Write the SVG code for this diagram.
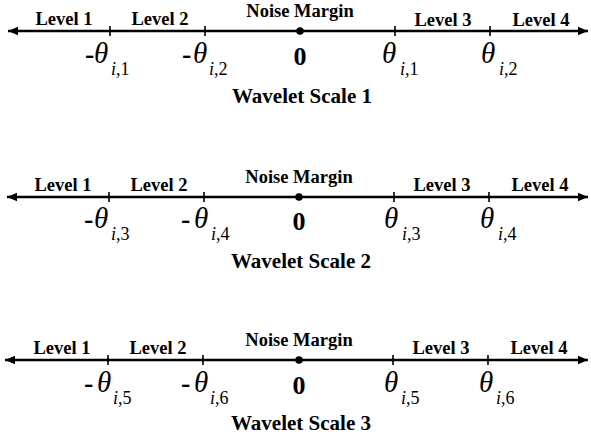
<svg xmlns="http://www.w3.org/2000/svg" width="591" height="441" viewBox="0 0 591 441">
<style>
.ax{stroke:#000;stroke-width:2.4;fill:none}
.tk{stroke:#000;stroke-width:1.6}
text{font-family:'Liberation Serif',serif;fill:#000}
.lv{font-weight:bold;font-size:18.5px;text-anchor:middle}
.ws{font-weight:bold;font-size:21px;text-anchor:middle}
.zero{font-weight:bold;font-size:26px;text-anchor:middle}
.th{font-style:italic;font-size:29px}
.dash{font-weight:bold;font-size:28px}
.sb{font-size:18px}
.sbi{font-style:italic}
</style>
<defs>
<marker id="ah" markerUnits="userSpaceOnUse" markerWidth="12" markerHeight="10" refX="10" refY="5" orient="auto-start-reverse">
<path d="M0,0.8 L10,5 L0,9.2 Z" fill="#000"/>
</marker>
</defs>
<rect width="591" height="441" fill="#fff"/>

<g id="scale1">
<line class="ax" x1="8" y1="31" x2="588" y2="31" marker-start="url(#ah)" marker-end="url(#ah)"/>
<line class="tk" x1="110" y1="26" x2="110" y2="36"/>
<line class="tk" x1="205" y1="26" x2="205" y2="36"/>
<line class="tk" x1="395" y1="26" x2="395" y2="36"/>
<line class="tk" x1="490" y1="26" x2="490" y2="36"/>
<circle cx="300" cy="31" r="3.8" fill="#000"/>
<text class="lv" x="64" y="25">Level 1</text>
<text class="lv" x="160" y="25">Level 2</text>
<text class="lv" x="300" y="17">Noise Margin</text>
<text class="lv" x="443" y="26">Level 3</text>
<text class="lv" x="541" y="26">Level 4</text>
<text class="dash" x="85" y="63">-</text>
<text class="th" x="94" y="63">θ</text>
<text class="sb" x="111" y="75"><tspan class="sbi">i</tspan>,1</text>
<text class="dash" x="182" y="63">-</text>
<text class="th" x="193" y="63">θ</text>
<text class="sb" x="209" y="75"><tspan class="sbi">i</tspan>,2</text>
<text class="zero" x="300" y="65">0</text>
<text class="th" x="382" y="63">θ</text>
<text class="sb" x="400" y="75"><tspan class="sbi">i</tspan>,1</text>
<text class="th" x="481" y="63">θ</text>
<text class="sb" x="499" y="75"><tspan class="sbi">i</tspan>,2</text>
<text class="ws" x="302" y="103">Wavelet Scale 1</text>
</g>

<g id="scale2">
<line class="ax" x1="7" y1="197" x2="588" y2="197" marker-start="url(#ah)" marker-end="url(#ah)"/>
<line class="tk" x1="109" y1="192" x2="109" y2="202"/>
<line class="tk" x1="204" y1="192" x2="204" y2="202"/>
<line class="tk" x1="394" y1="192" x2="394" y2="202"/>
<line class="tk" x1="489" y1="192" x2="489" y2="202"/>
<circle cx="299" cy="197" r="3.8" fill="#000"/>
<text class="lv" x="63" y="191">Level 1</text>
<text class="lv" x="159" y="191">Level 2</text>
<text class="lv" x="299" y="183">Noise Margin</text>
<text class="lv" x="442" y="191">Level 3</text>
<text class="lv" x="540" y="191">Level 4</text>
<text class="dash" x="84" y="228">-</text>
<text class="th" x="94" y="228">θ</text>
<text class="sb" x="111" y="240"><tspan class="sbi">i</tspan>,3</text>
<text class="dash" x="181" y="228">-</text>
<text class="th" x="194" y="228">θ</text>
<text class="sb" x="211" y="240"><tspan class="sbi">i</tspan>,4</text>
<text class="zero" x="299" y="230">0</text>
<text class="th" x="384" y="228">θ</text>
<text class="sb" x="402" y="240"><tspan class="sbi">i</tspan>,3</text>
<text class="th" x="480" y="228">θ</text>
<text class="sb" x="498" y="240"><tspan class="sbi">i</tspan>,4</text>
<text class="ws" x="301" y="268">Wavelet Scale 2</text>
</g>

<g id="scale3">
<line class="ax" x1="5" y1="360" x2="588" y2="360" marker-start="url(#ah)" marker-end="url(#ah)"/>
<line class="tk" x1="108" y1="355" x2="108" y2="365"/>
<line class="tk" x1="203" y1="355" x2="203" y2="365"/>
<line class="tk" x1="393" y1="355" x2="393" y2="365"/>
<line class="tk" x1="488" y1="355" x2="488" y2="365"/>
<circle cx="299" cy="360" r="3.8" fill="#000"/>
<text class="lv" x="62" y="354">Level 1</text>
<text class="lv" x="158" y="354">Level 2</text>
<text class="lv" x="299" y="346">Noise Margin</text>
<text class="lv" x="441" y="354">Level 3</text>
<text class="lv" x="539" y="354">Level 4</text>
<text class="dash" x="84" y="392">-</text>
<text class="th" x="97" y="392">θ</text>
<text class="sb" x="113" y="404"><tspan class="sbi">i</tspan>,5</text>
<text class="dash" x="181" y="392">-</text>
<text class="th" x="194" y="392">θ</text>
<text class="sb" x="210" y="404"><tspan class="sbi">i</tspan>,6</text>
<text class="zero" x="299" y="394">0</text>
<text class="th" x="384" y="392">θ</text>
<text class="sb" x="401" y="404"><tspan class="sbi">i</tspan>,5</text>
<text class="th" x="479" y="392">θ</text>
<text class="sb" x="496" y="404"><tspan class="sbi">i</tspan>,6</text>
<text class="ws" x="301" y="430">Wavelet Scale 3</text>
</g>
</svg>
